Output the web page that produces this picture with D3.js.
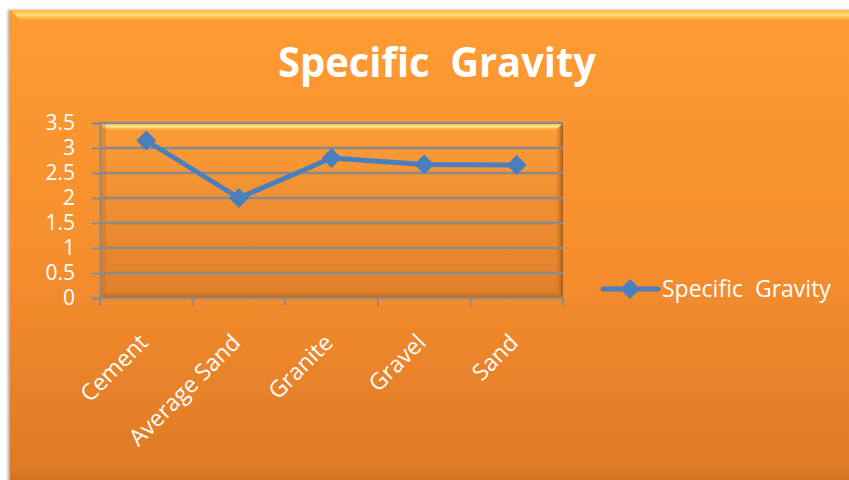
<!DOCTYPE html>
<html>
<head>
<meta charset="utf-8">
<script src="https://cdn.jsdelivr.net/npm/d3@7"></script>
<style>
  body { margin: 0; background: #fff; }
  svg { display: block; }
  text { font-family: "Open Sans", sans-serif; fill: #fff; white-space: pre; }
</style>
</head>
<body>
<svg width="849" height="480"></svg>
<script>
const categories = ['Cement', 'Average Sand', 'Granite', 'Gravel', 'Sand'];
const values = [3.15, 2.0, 2.8, 2.67, 2.66];
const yTicks = [0, 0.5, 1, 1.5, 2, 2.5, 3, 3.5];
const seriesName = 'Specific  Gravity';
const title = 'Specific  Gravity';

const svg = d3.select('svg');
const defs = svg.append('defs');

function grad(id, vertical, stops) {
  const g = defs.append('linearGradient').attr('id', id)
    .attr('x1', 0).attr('y1', 0).attr('x2', vertical ? 0 : 1).attr('y2', vertical ? 1 : 0);
  stops.forEach(([o, c, op]) => g.append('stop').attr('offset', o).attr('stop-color', c).attr('stop-opacity', op == null ? 1 : op));
}

grad('bg', true, [['0%', '#fe9c31'], ['55%', '#f58d2e'], ['97%', '#de7a26'], ['100%', '#c96c22']]);
grad('bevel', true, [['0%', '#ffb640'], ['45%', '#ffe27a'], ['100%', '#fe9c31', 0]]);
grad('plotBg', true, [['0%', '#fc9d38'], ['100%', '#e17f2b']]);
grad('plotTop', true, [['0%', '#ffcf5c'], ['50%', '#ffe683'], ['100%', '#fc9d38', 0]]);
grad('plotRight', false, [['0%', '#e58428', 0], ['100%', '#9c5818']]);
grad('plotBottom', true, [['0%', '#d87726', 0], ['100%', '#a65e1c']]);

const shadow = defs.append('filter').attr('id', 'shadow').attr('x', '-5%').attr('y', '-5%').attr('width', '110%').attr('height', '110%');
shadow.append('feDropShadow').attr('dx', -2).attr('dy', 0).attr('stdDeviation', 1.5).attr('flood-color', '#000').attr('flood-opacity', 0.35);

// chart frame
svg.append('rect').attr('x', 10).attr('y', 10).attr('width', 845).attr('height', 475)
  .attr('fill', 'url(#bg)').attr('filter', 'url(#shadow)');
svg.append('path')
  .attr('d', 'M10,10 L849,10 L849,22 L22,22 Z')
  .attr('fill', 'url(#bevel)');

// title
svg.append('text')
  .attr('x', 437).attr('y', 77)
  .attr('text-anchor', 'middle')
  .attr('font-size', 42).attr('font-weight', 'bold')
  .attr('textLength', 318).attr('lengthAdjust', 'spacingAndGlyphs')
  .text(title);

// scales
const pLeft = 100, pRight = 563, pTop = 123, pBottom = 298;
const x = d3.scaleBand().domain(categories).range([pLeft, pRight]);
const y = d3.scaleLinear().domain([0, 3.5]).range([pBottom, pTop]);
const cx = d => x(d) + x.bandwidth() / 2;

// plot area with bevel
const plot = svg.append('g');
plot.append('rect').attr('x', pLeft).attr('y', pTop).attr('width', pRight - pLeft).attr('height', pBottom - pTop)
  .attr('fill', 'url(#plotBg)');
plot.append('path')
  .attr('d', `M${pLeft},${pTop} L${pRight},${pTop} L${pRight - 8},${pTop + 8} L${pLeft + 6},${pTop + 8} Z`)
  .attr('fill', 'url(#plotTop)');
plot.append('path')
  .attr('d', `M${pRight - 8},${pTop + 8} L${pRight},${pTop} L${pRight},${pBottom} L${pRight - 8},${pBottom - 8} Z`)
  .attr('fill', 'url(#plotRight)');
plot.append('path')
  .attr('d', `M${pLeft + 6},${pBottom - 8} L${pRight - 8},${pBottom - 8} L${pRight},${pBottom} L${pLeft},${pBottom} Z`)
  .attr('fill', 'url(#plotBottom)').attr('opacity', 0.8);
plot.append('rect').attr('x', pLeft).attr('y', pTop).attr('width', 6).attr('height', pBottom - pTop)
  .attr('fill', '#c4701f').attr('opacity', 0.35);

// y axis
const yAxis = svg.append('g')
  .attr('transform', `translate(${pLeft},0)`)
  .call(d3.axisLeft(y).tickValues(yTicks).tickSize(8).tickFormat(d3.format('')));
yAxis.select('.domain').attr('stroke', '#8a8a8a').attr('stroke-width', 2);
yAxis.selectAll('.tick line').attr('stroke', '#8a8a8a').attr('stroke-width', 2);
yAxis.selectAll('.tick text').attr('font-size', 21).attr('fill', '#fff').attr('x', -25).attr('dy', '0.3em')
  .style('font-family', '"Open Sans", sans-serif');

// gridlines
svg.append('g').selectAll('line')
  .data(yTicks.filter(d => d > 0))
  .join('line')
  .attr('x1', pLeft).attr('x2', pRight)
  .attr('y1', d => y(d)).attr('y2', d => y(d))
  .attr('stroke', '#8a8a8a').attr('stroke-width', 2.5);

// x axis
const xg = svg.append('g');
xg.append('line').attr('x1', pLeft).attr('x2', pRight).attr('y1', pBottom).attr('y2', pBottom)
  .attr('stroke', '#8a8a8a').attr('stroke-width', 2);
xg.selectAll('line.tk')
  .data(categories.map(c => x(c)).concat([pRight]))
  .join('line')
  .attr('class', 'tk')
  .attr('x1', d => d).attr('x2', d => d)
  .attr('y1', pBottom).attr('y2', pBottom + 8)
  .attr('stroke', '#8a8a8a').attr('stroke-width', 2);
xg.selectAll('text')
  .data(categories)
  .join('text')
  .attr('transform', d => `translate(${cx(d) + 3},344) rotate(-45)`)
  .attr('text-anchor', 'end')
  .attr('font-size', 23)
  .text(d => d);

// series
const data = categories.map((c, i) => ({ c, v: values[i] }));
svg.append('path')
  .datum(data)
  .attr('fill', 'none')
  .attr('stroke', '#4a7fbe')
  .attr('stroke-width', 5)
  .attr('stroke-linejoin', 'round')
  .attr('d', d3.line().x(d => cx(d.c)).y(d => y(d.v)));

svg.selectAll('path.pt')
  .data(data)
  .join('path')
  .attr('class', 'pt')
  .attr('transform', d => `translate(${cx(d.c)},${y(d.v)}) rotate(45)`)
  .attr('d', d3.symbol().type(d3.symbolSquare).size(200))
  .attr('fill', '#4a7fbe');

// legend
const lg = svg.append('g').attr('transform', 'translate(603,289)');
lg.append('line').attr('x1', 0).attr('x2', 55).attr('y1', 0).attr('y2', 0)
  .attr('stroke', '#4a7fbe').attr('stroke-width', 5).attr('stroke-linecap', 'round');
lg.append('path').attr('transform', 'translate(27,0) rotate(45)')
  .attr('d', d3.symbol().type(d3.symbolSquare).size(200)).attr('fill', '#4a7fbe');
lg.append('text').attr('x', 59).attr('y', 8).attr('font-size', 23).text(seriesName);
</script>
</body>
</html>
